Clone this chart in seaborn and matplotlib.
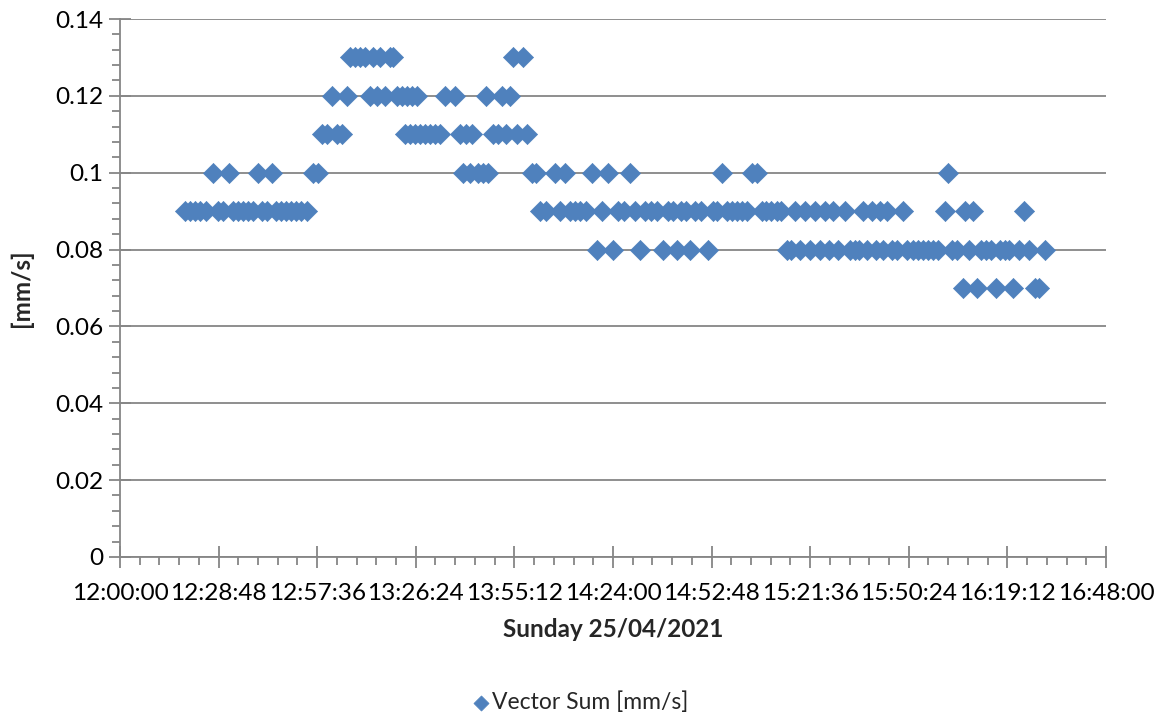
import numpy as np
import pandas as pd
import matplotlib
matplotlib.use("Agg")
import matplotlib.pyplot as plt
import matplotlib.ticker as mticker
import seaborn as sns

# minutes after 12:00:00 on Sunday 25/04/2021
minutes = [
    19.0, 20.5, 22.0, 23.5, 25.0, 27.2, 28.5, 30.0, 31.8, 33.0,
    34.5, 36.0, 37.5, 39.0, 40.3, 41.5, 43.0, 44.4, 45.5, 47.0,
    48.5, 50.0, 51.5, 53.0, 54.6, 56.4, 57.8,
    59.0, 60.5, 61.9, 63.4, 64.8, 66.3, 67.2, 68.6, 70.1, 71.6,
    73.0, 73.9, 75.1, 75.9, 77.4, 78.9, 79.7, 80.9, 82.4, 83.2,
    83.8, 84.7, 85.3, 86.2, 86.7, 87.6, 89.1, 90.5, 92.0, 93.5,
    94.9, 97.8, 99.3, 100.2, 101.1, 102.2, 102.8, 104.6, 106.0, 106.9,
    107.5, 108.9, 110.4, 111.6, 112.7, 113.9, 114.8, 116.0, 117.7, 118.9,
    120.3, 121.5,
    122.7, 124.5, 127.0, 128.5, 130.0, 131.5, 133.0, 134.5, 136.0, 137.9,
    139.3, 140.8, 142.5, 144.0, 145.5, 147.2, 149.0, 150.5, 151.9, 153.5,
    155.0, 156.8, 158.6, 160.2, 161.5, 162.7, 164.0, 165.3, 166.5, 168.0,
    169.8, 171.7, 173.2, 174.5, 175.8, 177.2, 178.8, 180.3, 181.8, 183.2,
    184.6, 186.1, 187.4, 188.8, 190.2, 191.8, 193.2,
    194.8, 196.0, 197.1, 198.5, 200.1, 201.5, 203.0, 204.5, 205.9, 207.0,
    208.2, 209.8, 211.7, 213.2, 214.6, 216.0, 217.0, 218.3, 219.6, 220.8,
    222.0, 223.0, 224.0, 225.5, 227.0, 228.6, 230.0, 231.5, 233.0, 234.5,
    236.0, 237.5, 239.0, 240.9, 241.8, 243.0, 244.5, 246.2, 246.8, 248.0,
    249.1, 250.3, 251.5, 253.0, 254.5, 255.8, 257.0, 258.5, 259.8, 260.8,
    262.5, 264.0, 265.5, 267.2, 268.4, 270.2,
]

vector_sum = [
    0.09, 0.09, 0.09, 0.09, 0.09, 0.10, 0.09, 0.09, 0.10, 0.09,
    0.09, 0.09, 0.09, 0.09, 0.10, 0.09, 0.09, 0.10, 0.09, 0.09,
    0.09, 0.09, 0.09, 0.09, 0.09, 0.10, 0.10,
    0.11, 0.11, 0.12, 0.11, 0.11, 0.12, 0.13, 0.13, 0.13, 0.13,
    0.12, 0.13, 0.12, 0.13, 0.12, 0.13, 0.13, 0.12, 0.12, 0.11,
    0.12, 0.11, 0.12, 0.11, 0.12, 0.11, 0.11, 0.11, 0.11, 0.11,
    0.12, 0.12, 0.11, 0.10, 0.11, 0.10, 0.11, 0.10, 0.10, 0.12,
    0.10, 0.11, 0.11, 0.12, 0.11, 0.12, 0.13, 0.11, 0.13, 0.11,
    0.10, 0.10,
    0.09, 0.09, 0.10, 0.09, 0.10, 0.09, 0.09, 0.09, 0.09, 0.10,
    0.08, 0.09, 0.10, 0.08, 0.09, 0.09, 0.10, 0.09, 0.08, 0.09,
    0.09, 0.09, 0.08, 0.09, 0.09, 0.08, 0.09, 0.09, 0.08, 0.09,
    0.09, 0.08, 0.09, 0.09, 0.10, 0.09, 0.09, 0.09, 0.09, 0.09,
    0.10, 0.10, 0.09, 0.09, 0.09, 0.09, 0.09,
    0.08, 0.08, 0.09, 0.08, 0.09, 0.08, 0.09, 0.08, 0.09, 0.08,
    0.09, 0.08, 0.09, 0.08, 0.08, 0.08, 0.09, 0.08, 0.09, 0.08,
    0.09, 0.08, 0.09, 0.08, 0.08, 0.09, 0.08, 0.08, 0.08, 0.08,
    0.08, 0.08, 0.08, 0.09, 0.10, 0.08, 0.08, 0.07, 0.09, 0.08,
    0.09, 0.07, 0.08, 0.08, 0.08, 0.07, 0.08, 0.08, 0.08, 0.07,
    0.08, 0.09, 0.08, 0.07, 0.07, 0.08,
]

y_ticks = [0, 0.02, 0.04, 0.06, 0.08, 0.10, 0.12, 0.14]
series_name = "Vector Sum [mm/s]"

df = pd.DataFrame({"minute": minutes, "value": vector_sum})

sns.set_theme(style="white")
plt.rcParams["font.family"] = ["Lato", "DejaVu Sans"]

fig = plt.figure(figsize=(11.6, 7.17), dpi=100)
ax = fig.add_axes([0.1034, 0.2232, 0.85, 0.7503])

blue = "#4F81BD"
grey = "#868686"

sns.scatterplot(
    data=df, x="minute", y="value", ax=ax,
    marker="D", s=105, color=blue, edgecolor=blue, linewidth=0.5,
    label=series_name, zorder=3,
)

ax.set_xlim(0, 288)
ax.set_ylim(0, 0.14)


def clock(m, pos=None):
    secs = int(round(12 * 3600 + m * 60))
    return f"{secs // 3600:02d}:{(secs % 3600) // 60:02d}:{secs % 60:02d}"


def plain(v, pos=None):
    return f"{v:.2f}".rstrip("0").rstrip(".") if v else "0"


ax.xaxis.set_major_locator(mticker.MultipleLocator(28.8))
ax.xaxis.set_minor_locator(mticker.MultipleLocator(5.76))
ax.xaxis.set_major_formatter(mticker.FuncFormatter(clock))
ax.set_yticks(y_ticks)
ax.yaxis.set_minor_locator(mticker.MultipleLocator(0.004))
ax.yaxis.set_major_formatter(mticker.FuncFormatter(plain))

ax.tick_params(which="major", direction="inout", length=16, width=1.3,
               color=grey, labelsize=17.6, labelcolor="black", pad=4)
ax.tick_params(which="minor", direction="out", length=6, width=1.3, color=grey)
ax.tick_params(axis="x", which="major", pad=11)
ax.tick_params(axis="x", which="both", bottom=True)
ax.tick_params(axis="y", which="both", left=True)

ax.yaxis.grid(True, color=grey, linewidth=1.3)
ax.set_axisbelow(True)
for side in ["top", "right"]:
    ax.spines[side].set_visible(False)
for side in ["left", "bottom"]:
    ax.spines[side].set_color(grey)
    ax.spines[side].set_linewidth(1.3)

ax.set_xlabel("Sunday 25/04/2021", fontsize=17.5, fontweight="bold", labelpad=10)
ax.set_ylabel("[mm/s]", fontsize=17.5, fontweight="bold", labelpad=16)

ax.get_legend().remove()
handles, labels = ax.get_legend_handles_labels()
fig.legend(handles, labels, loc="center", bbox_to_anchor=(0.5, 0.02),
           frameon=False, fontsize=16.5, markerscale=0.75, handletextpad=0.1,
           handlelength=0.8)

fig.savefig("out.png", dpi=100)
